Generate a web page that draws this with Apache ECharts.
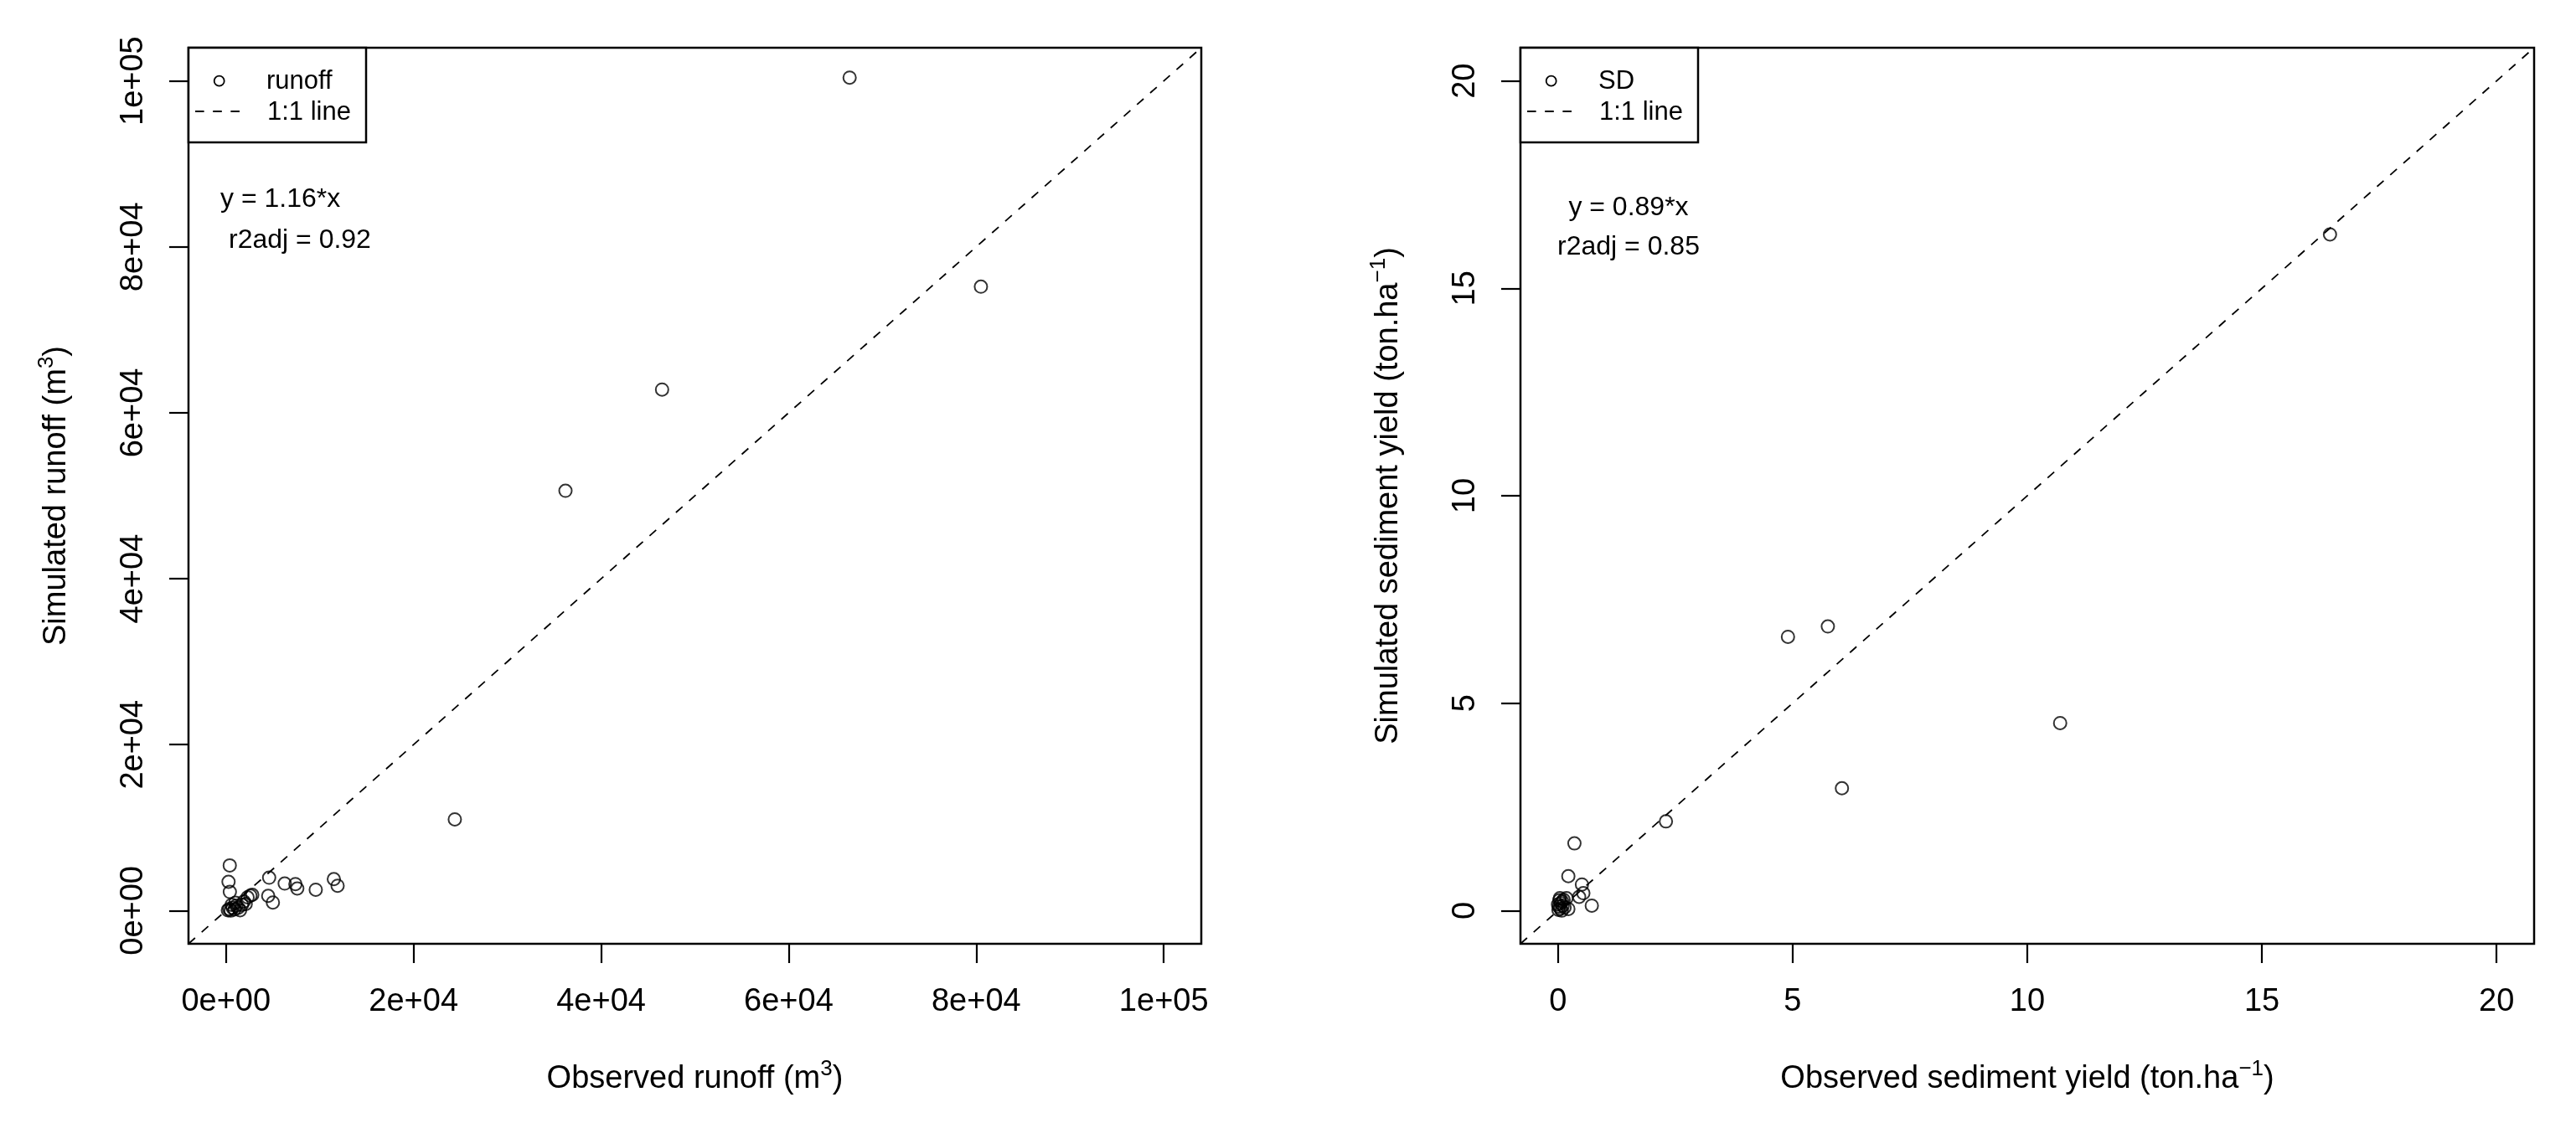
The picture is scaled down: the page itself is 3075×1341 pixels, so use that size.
<!DOCTYPE html>
<html><head><meta charset="utf-8">
<script src="https://cdn.jsdelivr.net/npm/echarts@6/dist/echarts.min.js"></script>
<style>html,body{margin:0;padding:0;background:#fff}#c{width:3075px;height:1341px}</style>
</head><body><div id="c"></div>
<script>
// ---------- data ----------
const runoffObs = [66500, 80500, 46500, 36200, 24400,
  400, 270, 410, 4600, 4500, 5000, 6260, 7400, 7600, 9570, 11500, 11900,
  2300, 2600, 2800,
  200, 350, 500, 700, 900, 1100, 1300, 1500, 1700, 1900, 2100, 1000, 600];
const runoffSim = [100400, 75200, 62800, 50600, 11000,
  5450, 3470, 2250, 3970, 1780, 980, 3260, 3200, 2660, 2520, 3800, 3000,
  1600, 1800, 1900,
  50, 200, 0, 350, 150, 600, 350, 50, 700, 1100, 800, 950, 700];
const sedObs = [16.45, 4.9, 5.75, 10.7, 6.05, 2.3, 0.35, 0.22, 0.51, 0.54, 0.45, 0.72, 0.22, 0.18,
  0.01, 0.02, 0.03, 0.05, 0.06, 0.08, 0.10, 0.12, 0.04, 0.09, 0.14, 0.00];
const sedSim = [16.3, 6.6, 6.85, 4.52, 2.95, 2.15, 1.62, 0.83, 0.63, 0.42, 0.33, 0.12, 0.04, 0.30,
  0.02, 0.10, 0.25, 0.05, 0.18, 0.00, 0.12, 0.26, 0.30, 0.22, 0.08, 0.15];

const runoffRange = [-4000, 104000];
const sedRange = [-0.8, 20.8];
const runoffTicks = [0, 20000, 40000, 60000, 80000, 100000];
const runoffTickLabels = ['0e+00', '2e+04', '4e+04', '6e+04', '8e+04', '1e+05'];
const sedTicks = [0, 5, 10, 15, 20];
const sedTickLabels = ['0', '5', '10', '15', '20'];

const legendLeft = ['runoff', '1:1 line'];
const legendRight = ['SD', '1:1 line'];
const annLeft = ['y = 1.16*x', 'r2adj = 0.92'];
const annRight = ['y = 0.89*x', 'r2adj = 0.85'];

// ---------- styling ----------
const FONT = "'Liberation Sans', Arial, sans-serif";
const nameStyle = {
  fontFamily: FONT, fontSize: 38, color: '#000', lineHeight: 50,
  rich: { sup: { fontFamily: FONT, fontSize: 26, color: '#000', verticalAlign: 'top', lineHeight: 26 } }
};

function makeAxis(type, gridIndex, range, ticks, labels, name, gap) {
  const isY = type === 'y';
  return {
    type: 'value', gridIndex: gridIndex, min: range[0], max: range[1],
    name: name, nameLocation: 'middle', nameGap: gap, nameTextStyle: nameStyle,
    axisLine: { show: false, onZero: false },
    splitLine: { show: false },
    axisTick: { show: true, length: 23, lineStyle: { color: '#000', width: 2.2 }, customValues: ticks },
    axisLabel: {
      show: true, customValues: ticks, margin: isY ? 46 : 51, rotate: isY ? 90 : 0,
      fontFamily: FONT, fontSize: 38, color: '#000',
      formatter: function (v) {
        for (let i = 0; i < ticks.length; i++) if (Math.abs(ticks[i] - v) < 1e-9) return labels[i];
        return '';
      }
    }
  };
}

function pairs(xs, ys) { return xs.map((x, i) => [x, ys[i]]); }

const pointStyle = { color: 'rgba(0,0,0,0)', borderColor: '#000', borderWidth: 2 };
const dashStyle = { color: '#000', width: 1.8, type: [10.5, 10.5] };

function legendGraphics(x0, labels) {
  const y0 = 57, w = 212, h = 113;
  return [
    { type: 'rect', z: 100, shape: { x: x0, y: y0, width: w, height: h },
      style: { fill: '#fff', stroke: '#000', lineWidth: 2.5 } },
    { type: 'circle', z: 101, shape: { cx: x0 + 36.7, cy: 96.7, r: 6 },
      style: { fill: 'none', stroke: '#000', lineWidth: 1.8 } },
    { type: 'line', z: 101, shape: { x1: x0 + 8, y1: 133, x2: x0 + 61, y2: 133 },
      style: { stroke: '#000', lineWidth: 2, lineDash: [10.6, 10.6] } },
    { type: 'text', z: 101, style: { x: x0 + 93, y: 97, text: labels[0], font: '31px ' + FONT,
      fill: '#000', textAlign: 'left', textVerticalAlign: 'middle' } },
    { type: 'text', z: 101, style: { x: x0 + 94, y: 134, text: labels[1], font: '31px ' + FONT,
      fill: '#000', textAlign: 'left', textVerticalAlign: 'middle' } }
  ];
}

function annText(x, y, t, align) {
  return { type: 'text', z: 101, style: { x: x, y: y, text: t, font: '32px ' + FONT,
    fill: '#000', textAlign: align, textVerticalAlign: 'middle' } };
}

const chart = echarts.init(document.getElementById('c'), null, { renderer: 'canvas' });
chart.setOption({
  animation: false,
  backgroundColor: '#fff',
  grid: [
    { left: 225, right: 1641, top: 57, bottom: 214, show: true, borderColor: '#000', borderWidth: 2.5, containLabel: false },
    { left: 1815, right: 50, top: 57, bottom: 214, show: true, borderColor: '#000', borderWidth: 2.5, containLabel: false }
  ],
  xAxis: [
    makeAxis('x', 0, runoffRange, runoffTicks, runoffTickLabels, 'Observed runoff (m{sup|3})', 137),
    makeAxis('x', 1, sedRange, sedTicks, sedTickLabels, 'Observed sediment yield (ton.ha{sup|\u22121})', 137)
  ],
  yAxis: [
    makeAxis('y', 0, runoffRange, runoffTicks, runoffTickLabels, 'Simulated runoff (m{sup|3})', 132),
    makeAxis('y', 1, sedRange, sedTicks, sedTickLabels, 'Simulated sediment yield (ton.ha{sup|\u22121})', 132)
  ],
  series: [
    { type: 'line', xAxisIndex: 0, yAxisIndex: 0, data: [[runoffRange[0], runoffRange[0]], [runoffRange[1], runoffRange[1]]],
      showSymbol: false, symbol: 'none', lineStyle: dashStyle, silent: true, z: 1 },
    { type: 'scatter', xAxisIndex: 0, yAxisIndex: 0, data: pairs(runoffObs, runoffSim),
      symbol: 'circle', symbolSize: 15, itemStyle: pointStyle, silent: true, z: 2 },
    { type: 'line', xAxisIndex: 1, yAxisIndex: 1, data: [[sedRange[0], sedRange[0]], [sedRange[1], sedRange[1]]],
      showSymbol: false, symbol: 'none', lineStyle: dashStyle, silent: true, z: 1 },
    { type: 'scatter', xAxisIndex: 1, yAxisIndex: 1, data: pairs(sedObs, sedSim),
      symbol: 'circle', symbolSize: 15, itemStyle: pointStyle, silent: true, z: 2 }
  ],
  graphic: [].concat(
    legendGraphics(225, legendLeft),
    legendGraphics(1815, legendRight),
    [annText(263, 238, annLeft[0], 'left'), annText(273, 287, annLeft[1], 'left'),
     annText(1944, 248, annRight[0], 'center'), annText(1944, 295, annRight[1], 'center')]
  )
});
</script>
</body></html>
